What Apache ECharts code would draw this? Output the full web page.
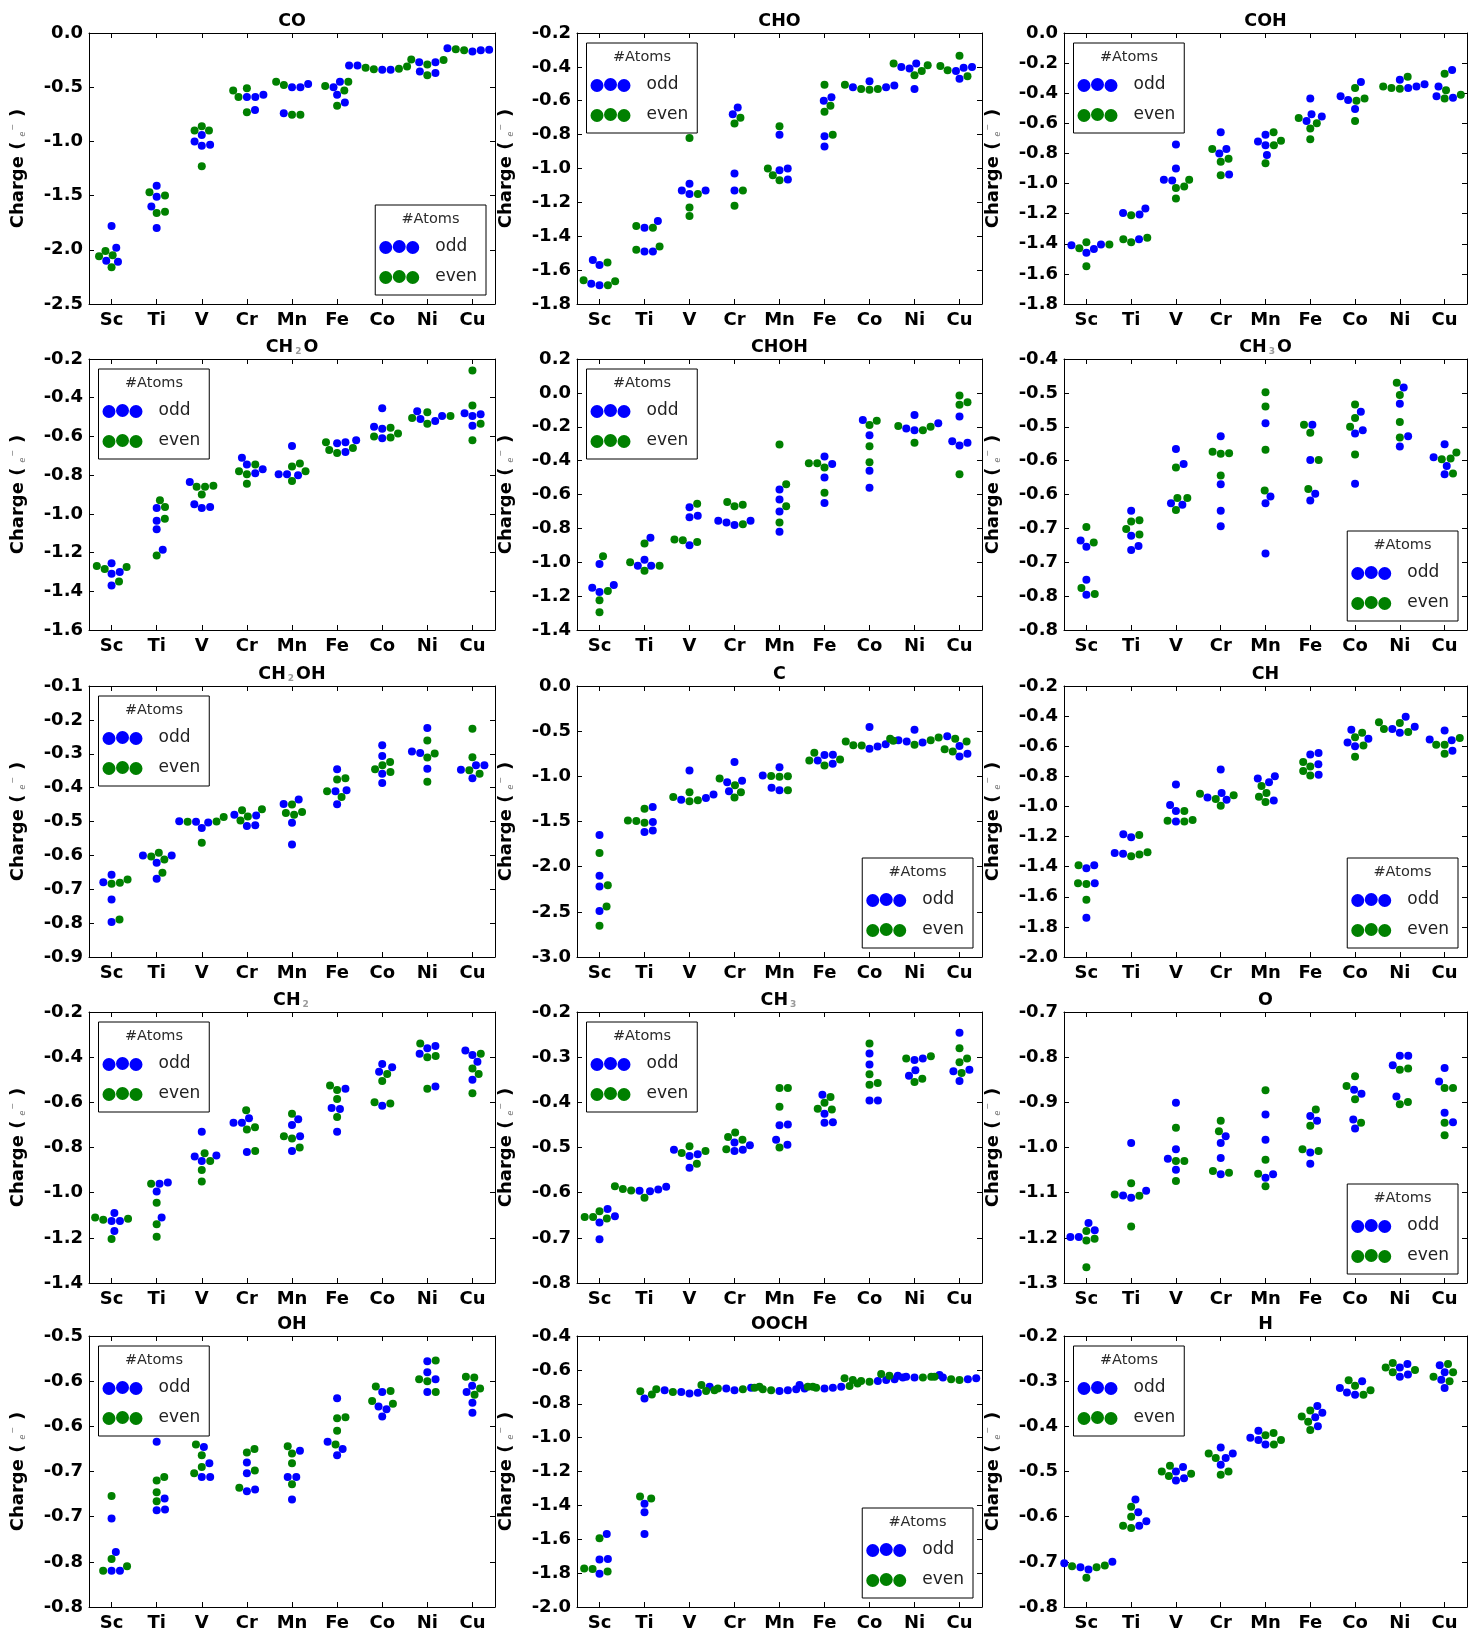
<!DOCTYPE html>
<html>
<head>
<meta charset="utf-8">
<script src="https://cdn.jsdelivr.net/npm/echarts@6/dist/echarts.min.js"></script>
<style>
  html, body { margin: 0; padding: 0; background: #fff; }
  #chart { width: 1468px; height: 1633px; }
</style>
</head>
<body>
<div id="chart"></div>
<script>
// Metals on the x axis
const metals = ['Sc', 'Ti', 'V', 'Cr', 'Mn', 'Fe', 'Co', 'Ni', 'Cu'];

// Adsorbate charge (e-) per metal: four clusters with an odd and four with an even atom count
const CO_odd = [[-1.78,-1.98,-2.10,-2.11],[-1.41,-1.51,-1.60,-1.80],[-1.03,-0.94,-1.04,-1.00],[-0.57,-0.71,-0.59,-0.59],[-0.50,-0.50,-0.47,-0.74],[-0.45,-0.50,-0.57,-0.64],[-0.30,-0.34,-0.34,-0.30],[-0.27,-0.27,-0.37,-0.355],[-0.14,-0.16,-0.17,-0.155]];
const CO_even = [[-2.05,-2.01,-2.06,-2.16],[-1.50,-1.47,-1.65,-1.66],[-0.90,-0.90,-0.86,-1.23],[-0.59,-0.53,-0.51,-0.73],[-0.45,-0.48,-0.755,-0.755],[-0.45,-0.53,-0.49,-0.67],[-0.32,-0.335,-0.31,-0.33],[-0.245,-0.25,-0.29,-0.39],[-0.15,-0.145,-0.13,-0.16]];

const CHO_odd = [[-1.69,-1.57,-1.54,-1.68],[-1.31,-1.35,-1.49,-1.49],[-1.09,-1.15,-1.13,-1.13],[-0.64,-0.68,-1.03,-1.13],[-1.00,-1.01,-1.065,-0.80],[-0.58,-0.60,-0.81,-0.87],[-0.52,-0.485,-0.52,-0.51],[-0.53,-0.41,-0.40,-0.38],[-0.40,-0.405,-0.425,-0.47]];
const CHO_even = [[-1.665,-1.555,-1.69,-1.66],[-1.35,-1.34,-1.46,-1.48],[-1.15,-0.82,-1.23,-1.28],[-0.70,-0.735,-1.13,-1.22],[-0.75,-1.00,-1.04,-1.07],[-0.505,-0.63,-0.665,-0.80],[-0.505,-0.53,-0.535,-0.53],[-0.39,-0.425,-0.38,-0.45],[-0.335,-0.455,-0.42,-0.395]];

const COH_odd = [[-1.41,-1.435,-1.405,-1.46],[-1.165,-1.205,-1.195,-1.37],[-0.74,-0.90,-0.975,-0.98],[-0.66,-0.77,-0.80,-0.94],[-0.675,-0.745,-0.72,-0.81],[-0.435,-0.555,-0.54,-0.585],[-0.325,-0.42,-0.445,-0.505],[-0.34,-0.355,-0.365,-0.31],[-0.245,-0.355,-0.42,-0.43]];
const COH_even = [[-1.43,-1.405,-1.39,-1.55],[-1.21,-1.37,-1.39,-1.36],[-1.02,-1.03,-0.975,-1.10],[-0.77,-0.835,-0.855,-0.945],[-0.66,-0.715,-0.745,-0.865],[-0.60,-0.565,-0.635,-0.705],[-0.365,-0.45,-0.435,-0.585],[-0.29,-0.37,-0.365,-0.355],[-0.27,-0.38,-0.41,-0.435]];

const CH2O_odd = [[-1.255,-1.30,-1.31,-1.37],[-0.97,-1.035,-1.08,-1.185],[-0.835,-0.965,-0.97,-0.95],[-0.71,-0.745,-0.77,-0.79],[-0.65,-0.80,-0.795,-0.795],[-0.68,-0.635,-0.63,-0.62],[-0.455,-0.55,-0.56,-0.61],[-0.47,-0.52,-0.495,-0.51],[-0.485,-0.495,-0.48,-0.545]];
const CH2O_even = [[-1.275,-1.285,-1.27,-1.35],[-0.93,-0.965,-1.025,-1.215],[-0.855,-0.86,-0.86,-0.90],[-0.745,-0.795,-0.78,-0.845],[-0.78,-0.755,-0.74,-0.83],[-0.66,-0.63,-0.685,-0.67],[-0.585,-0.605,-0.555,-0.60],[-0.495,-0.535,-0.505,-0.475],[-0.26,-0.44,-0.535,-0.62]];

const CHOH_odd = [[-1.01,-1.135,-1.175,-1.15],[-0.855,-0.985,-1.02,-1.02],[-0.675,-0.725,-0.735,-0.90],[-0.755,-0.78,-0.765,-0.755],[-0.57,-0.63,-0.70,-0.82],[-0.375,-0.42,-0.50,-0.65],[-0.16,-0.25,-0.46,-0.56],[-0.18,-0.13,-0.22,-0.21],[-0.14,-0.295,-0.31,-0.285]];
const CHOH_even = [[-0.965,-1.17,-1.225,-1.295],[-1.00,-1.02,-0.89,-1.05],[-0.655,-0.88,-0.87,-0.865],[-0.66,-0.67,-0.645,-0.775],[-0.305,-0.54,-0.67,-0.765],[-0.44,-0.415,-0.415,-0.59],[-0.165,-0.19,-0.315,-0.41],[-0.20,-0.22,-0.195,-0.295],[-0.015,-0.055,-0.07,-0.48]];

const CH3O_odd = [[-0.677,-0.668,-0.726,-0.748],[-0.624,-0.661,-0.676,-0.682],[-0.533,-0.555,-0.615,-0.613],[-0.514,-0.585,-0.624,-0.647],[-0.495,-0.603,-0.613,-0.687],[-0.497,-0.549,-0.599,-0.609],[-0.478,-0.505,-0.51,-0.584],[-0.442,-0.466,-0.514,-0.529],[-0.545,-0.526,-0.558,-0.57]];
const CH3O_even = [[-0.648,-0.671,-0.738,-0.747],[-0.638,-0.64,-0.651,-0.659],[-0.56,-0.605,-0.605,-0.623],[-0.539,-0.54,-0.537,-0.572],[-0.449,-0.47,-0.534,-0.594],[-0.497,-0.509,-0.549,-0.592],[-0.467,-0.487,-0.50,-0.541],[-0.435,-0.453,-0.493,-0.516],[-0.548,-0.547,-0.538,-0.569]];

const CH2OH_odd = [[-0.657,-0.679,-0.73,-0.797],[-0.60,-0.60,-0.622,-0.669],[-0.503,-0.519,-0.501,-0.499],[-0.482,-0.48,-0.511,-0.513],[-0.448,-0.435,-0.504,-0.568],[-0.346,-0.411,-0.408,-0.449],[-0.275,-0.307,-0.359,-0.386],[-0.224,-0.298,-0.293,-0.344],[-0.334,-0.334,-0.347,-0.372]];
const CH2OH_even = [[-0.671,-0.681,-0.684,-0.789],[-0.592,-0.612,-0.603,-0.651],[-0.487,-0.50,-0.501,-0.563],[-0.464,-0.467,-0.485,-0.497],[-0.45,-0.475,-0.48,-0.472],[-0.372,-0.376,-0.411,-0.428],[-0.324,-0.334,-0.354,-0.346],[-0.261,-0.299,-0.311,-0.383],[-0.226,-0.31,-0.359,-0.349]];

const C_odd = [[-1.65,-2.10,-2.22,-2.49],[-1.34,-1.505,-1.60,-1.615],[-0.935,-1.20,-1.24,-1.26],[-0.84,-1.065,-1.05,-1.165],[-0.90,-1.155,-1.125,-0.99],[-0.76,-0.765,-0.86,-0.825],[-0.455,-0.645,-0.67,-0.695],[-0.485,-0.60,-0.625,-0.615],[-0.555,-0.665,-0.75,-0.78]];
const C_even = [[-1.85,-2.205,-2.44,-2.655],[-1.49,-1.36,-1.515,-1.495],[-1.175,-1.265,-1.275,-1.23],[-1.025,-1.175,-1.235,-1.10],[-1.00,-1.005,-0.995,-1.155],[-0.815,-0.88,-0.74,-0.825],[-0.605,-0.655,-0.66,-0.615],[-0.57,-0.65,-0.60,-0.585],[-0.585,-0.615,-0.725,-0.70]];

const CH_odd = [[-1.39,-1.41,-1.51,-1.74],[-1.205,-1.185,-1.315,-1.31],[-0.855,-1.03,-0.99,-1.10],[-0.755,-0.91,-0.955,-0.94],[-0.80,-0.84,-0.815,-0.96],[-0.645,-0.655,-0.72,-0.79],[-0.49,-0.55,-0.60,-0.575],[-0.405,-0.47,-0.51,-0.485],[-0.495,-0.555,-0.56,-0.63]];
const CH_even = [[-1.39,-1.51,-1.515,-1.62],[-1.19,-1.305,-1.32,-1.33],[-1.03,-1.09,-1.10,-1.095],[-0.925,-0.95,-0.995,-0.915],[-0.865,-0.91,-0.935,-0.97],[-0.705,-0.735,-0.765,-0.795],[-0.51,-0.54,-0.595,-0.67],[-0.445,-0.505,-0.485,-0.44],[-0.545,-0.59,-0.59,-0.65]];

const CH2_odd = [[-1.09,-1.125,-1.125,-1.17],[-0.955,-0.96,-0.995,-1.11],[-0.73,-0.835,-0.86,-0.84],[-0.67,-0.69,-0.69,-0.82],[-0.675,-0.70,-0.75,-0.815],[-0.54,-0.625,-0.63,-0.73],[-0.445,-0.43,-0.465,-0.615],[-0.35,-0.36,-0.385,-0.53],[-0.37,-0.39,-0.42,-0.50]];
const CH2_even = [[-1.115,-1.12,-1.11,-1.205],[-0.96,-1.045,-1.14,-1.195],[-0.825,-0.86,-0.90,-0.95],[-0.635,-0.71,-0.72,-0.815],[-0.65,-0.75,-0.76,-0.80],[-0.545,-0.525,-0.585,-0.665],[-0.475,-0.505,-0.60,-0.605],[-0.34,-0.395,-0.40,-0.54],[-0.385,-0.45,-0.475,-0.56]];

const CH3_odd = [[-0.652,-0.636,-0.666,-0.703],[-0.587,-0.593,-0.596,-0.597],[-0.515,-0.519,-0.545,-0.505],[-0.495,-0.489,-0.508,-0.505],[-0.449,-0.451,-0.483,-0.494],[-0.383,-0.425,-0.444,-0.445],[-0.292,-0.316,-0.396,-0.396],[-0.306,-0.303,-0.329,-0.341],[-0.246,-0.331,-0.328,-0.353]];
const CH3_even = [[-0.657,-0.641,-0.654,-0.654],[-0.611,-0.595,-0.586,-0.592],[-0.508,-0.497,-0.512,-0.536],[-0.477,-0.467,-0.483,-0.504],[-0.368,-0.368,-0.41,-0.50],[-0.388,-0.401,-0.416,-0.414],[-0.27,-0.338,-0.357,-0.361],[-0.298,-0.303,-0.348,-0.355],[-0.28,-0.303,-0.311,-0.335]];

const O_odd = [[-1.167,-1.183,-1.198,-1.198],[-0.99,-1.096,-1.111,-1.106],[-0.901,-1.004,-1.025,-1.049],[-0.975,-0.99,-1.023,-1.059],[-0.927,-0.983,-1.059,-1.067],[-0.941,-0.93,-1.011,-1.036],[-0.881,-0.872,-0.938,-0.958],[-0.797,-0.797,-0.818,-0.887],[-0.824,-0.854,-0.923,-0.944]];
const O_even = [[-1.185,-1.202,-1.206,-1.265],[-1.107,-1.079,-1.104,-1.175],[-0.956,-1.03,-1.03,-1.074],[-0.941,-0.964,-1.056,-1.052],[-0.873,-1.027,-1.058,-1.086],[-0.916,-0.952,-1.008,-1.004],[-0.842,-0.864,-0.893,-0.945],[-0.825,-0.828,-0.899,-0.904],[-0.868,-0.868,-0.945,-0.973]];

const OH_odd = [[-0.702,-0.739,-0.76,-0.76],[-0.617,-0.68,-0.692,-0.693],[-0.623,-0.641,-0.656,-0.656],[-0.64,-0.652,-0.67,-0.672],[-0.627,-0.656,-0.656,-0.681],[-0.569,-0.617,-0.625,-0.632],[-0.562,-0.578,-0.581,-0.589],[-0.528,-0.54,-0.548,-0.562],[-0.555,-0.562,-0.574,-0.585]];
const OH_even = [[-0.677,-0.747,-0.76,-0.755],[-0.656,-0.66,-0.673,-0.683],[-0.62,-0.632,-0.645,-0.652],[-0.625,-0.629,-0.649,-0.668],[-0.622,-0.641,-0.664,-0.63],[-0.59,-0.591,-0.605,-0.62],[-0.556,-0.561,-0.572,-0.575],[-0.527,-0.548,-0.55,-0.562],[-0.545,-0.546,-0.558,-0.565]];

const OOCH_odd = [[-1.569,-1.717,-1.72,-1.803],[-0.769,-1.39,-1.44,-1.569],[-0.72,-0.735,-0.74,-0.73],[-0.70,-0.71,-0.72,-0.705],[-0.71,-0.72,-0.725,-0.715],[-0.70,-0.705,-0.71,-0.69],[-0.645,-0.66,-0.665,-0.655],[-0.63,-0.64,-0.645,-0.635],[-0.625,-0.645,-0.655,-0.65]];
const OOCH_even = [[-1.594,-1.772,-1.775,-1.79],[-0.726,-0.745,-1.348,-1.36],[-0.715,-0.725,-0.73,-0.72],[-0.69,-0.70,-0.71,-0.715],[-0.705,-0.715,-0.72,-0.70],[-0.68,-0.695,-0.70,-0.705],[-0.65,-0.66,-0.67,-0.665],[-0.625,-0.635,-0.64,-0.645],[-0.63,-0.64,-0.655,-0.66]];

const H_odd = [[-0.70,-0.703,-0.712,-0.717],[-0.562,-0.59,-0.61,-0.62],[-0.49,-0.50,-0.515,-0.52],[-0.447,-0.46,-0.47,-0.485],[-0.41,-0.425,-0.43,-0.44],[-0.355,-0.37,-0.38,-0.40],[-0.30,-0.315,-0.325,-0.33],[-0.262,-0.27,-0.285,-0.29],[-0.265,-0.28,-0.297,-0.315]];
const H_even = [[-0.708,-0.712,-0.71,-0.735],[-0.578,-0.60,-0.62,-0.625],[-0.487,-0.50,-0.505,-0.51],[-0.46,-0.47,-0.50,-0.507],[-0.415,-0.42,-0.43,-0.44],[-0.365,-0.378,-0.39,-0.408],[-0.298,-0.31,-0.32,-0.33],[-0.26,-0.27,-0.275,-0.28],[-0.262,-0.28,-0.29,-0.30]];

// y tick labels, top to bottom
const ticks_CO    = ['0.0','-0.5','-1.0','-1.5','-2.0','-2.5'];
const ticks_CHO   = ['-0.2','-0.4','-0.6','-0.8','-1.0','-1.2','-1.4','-1.6','-1.8'];
const ticks_COH   = ['0.0','-0.2','-0.4','-0.6','-0.8','-1.0','-1.2','-1.4','-1.6','-1.8'];
const ticks_CH2O  = ['-0.2','-0.4','-0.6','-0.8','-1.0','-1.2','-1.4','-1.6'];
const ticks_CHOH  = ['0.2','0.0','-0.2','-0.4','-0.6','-0.8','-1.0','-1.2','-1.4'];
const ticks_CH3O  = ['-0.4','-0.5','-0.5','-0.6','-0.6','-0.7','-0.7','-0.8','-0.8'];
const ticks_CH2OH = ['-0.1','-0.2','-0.3','-0.4','-0.5','-0.6','-0.7','-0.8','-0.9'];
const ticks_C     = ['0.0','-0.5','-1.0','-1.5','-2.0','-2.5','-3.0'];
const ticks_CH    = ['-0.2','-0.4','-0.6','-0.8','-1.0','-1.2','-1.4','-1.6','-1.8','-2.0'];
const ticks_CH2   = ['-0.2','-0.4','-0.6','-0.8','-1.0','-1.2','-1.4'];
const ticks_CH3   = ['-0.2','-0.3','-0.4','-0.5','-0.6','-0.7','-0.8'];
const ticks_O     = ['-0.7','-0.8','-0.9','-1.0','-1.1','-1.2','-1.3'];
const ticks_OH    = ['-0.5','-0.6','-0.6','-0.7','-0.7','-0.8','-0.8'];
const ticks_OOCH  = ['-0.4','-0.6','-0.8','-1.0','-1.2','-1.4','-1.6','-1.8','-2.0'];
const ticks_H     = ['-0.2','-0.3','-0.4','-0.5','-0.6','-0.7','-0.8'];

const panels = [
  { name: 'CO',    odd: CO_odd,    even: CO_even,    min: -2.5, max: 0.0,  step: 0.5,  ticks: ticks_CO,    legend: 'br' },
  { name: 'CHO',   odd: CHO_odd,   even: CHO_even,   min: -1.8, max: -0.2, step: 0.2,  ticks: ticks_CHO,   legend: 'tl' },
  { name: 'COH',   odd: COH_odd,   even: COH_even,   min: -1.8, max: 0.0,  step: 0.2,  ticks: ticks_COH,   legend: 'tl' },
  { name: 'CH2O',  odd: CH2O_odd,  even: CH2O_even,  min: -1.6, max: -0.2, step: 0.2,  ticks: ticks_CH2O,  legend: 'tl' },
  { name: 'CHOH',  odd: CHOH_odd,  even: CHOH_even,  min: -1.4, max: 0.2,  step: 0.2,  ticks: ticks_CHOH,  legend: 'tl' },
  { name: 'CH3O',  odd: CH3O_odd,  even: CH3O_even,  min: -0.8, max: -0.4, step: 0.05, ticks: ticks_CH3O,  legend: 'br' },
  { name: 'CH2OH', odd: CH2OH_odd, even: CH2OH_even, min: -0.9, max: -0.1, step: 0.1,  ticks: ticks_CH2OH, legend: 'tl' },
  { name: 'C',     odd: C_odd,     even: C_even,     min: -3.0, max: 0.0,  step: 0.5,  ticks: ticks_C,     legend: 'br' },
  { name: 'CH',    odd: CH_odd,    even: CH_even,    min: -2.0, max: -0.2, step: 0.2,  ticks: ticks_CH,    legend: 'br' },
  { name: 'CH2',   odd: CH2_odd,   even: CH2_even,   min: -1.4, max: -0.2, step: 0.2,  ticks: ticks_CH2,   legend: 'tl' },
  { name: 'CH3',   odd: CH3_odd,   even: CH3_even,   min: -0.8, max: -0.2, step: 0.1,  ticks: ticks_CH3,   legend: 'tl' },
  { name: 'O',     odd: O_odd,     even: O_even,     min: -1.3, max: -0.7, step: 0.1,  ticks: ticks_O,     legend: 'br' },
  { name: 'OH',    odd: OH_odd,    even: OH_even,    min: -0.8, max: -0.5, step: 0.05, ticks: ticks_OH,    legend: 'tl' },
  { name: 'OOCH',  odd: OOCH_odd,  even: OOCH_even,  min: -2.0, max: -0.4, step: 0.2,  ticks: ticks_OOCH,  legend: 'br' },
  { name: 'H',     odd: H_odd,     even: H_even,     min: -0.8, max: -0.2, step: 0.1,  ticks: ticks_H,     legend: 'tl' }
];

// ---- layout ----
const W = 1468, H = 1633;
const colLeft = [89, 577, 1064];
const colWidth = [406, 405, 403];
const rowTop = [33, 359, 686, 1012, 1336];
const rowHeight = 271;
const FONT = 'DejaVu Sans';
const BLUE = '#0000ff', GREEN = '#008000';
const DOT = 8;          // marker diameter, px
const SWARM_GAP = 8.4;  // minimum centre distance in the swarm, px
const LEG_W = 111, LEG_H = 90;

// three dots used as the legend key
const KEY_ICON = 'path://M0,7.5a6.5,6.5 0 1,0 13,0a6.5,6.5 0 1,0 -13,0z' +
  'M13.5,6.5a6.5,6.5 0 1,0 13,0a6.5,6.5 0 1,0 -13,0z' +
  'M27,7.5a6.5,6.5 0 1,0 13,0a6.5,6.5 0 1,0 -13,0z';

// Beeswarm: horizontal pixel offsets so that no two dots overlap
function swarmOffsets(values, pxPerUnit, d) {
  const order = values.map((v, i) => i).sort((a, b) => values[a] - values[b]);
  const placed = [];
  const xs = new Array(values.length);
  order.forEach(i => {
    const y = values[i] * pxPerUnit;
    const near = placed.filter(p => Math.abs(p.y - y) < d);
    const cands = [0];
    near.forEach(p => {
      const dx = Math.sqrt(d * d - (p.y - y) * (p.y - y));
      cands.push(p.x + dx, p.x - dx);
    });
    cands.sort((a, b) => Math.abs(a) - Math.abs(b));
    const x = cands.find(c => near.every(p => (p.x - c) * (p.x - c) + (p.y - y) * (p.y - y) >= d * d - 1e-6));
    placed.push({ x: x, y: y });
    xs[i] = x;
  });
  return xs;
}

function titleRich(name) {
  return name.replace(/([A-Za-z]+)|(\d+)/g, (m, letters, digits) =>
    letters ? '{t|' + letters + '}' : '{s|' + digits + '}');
}

const axisLineStyle = { color: '#000', width: 1 };
const tickValues = metals.map((m, i) => i);

const option = {
  animation: false,
  backgroundColor: '#fff',
  grid: [], xAxis: [], yAxis: [], series: [], legend: [], title: []
};

panels.forEach((p, i) => {
  const c = i % 3, r = Math.floor(i / 3);
  const left = colLeft[c], top = rowTop[r], w = colWidth[c], h = rowHeight;
  const right = left + w, bottom = top + h;

  option.grid.push({ left: left, top: top, width: w, height: h, show: false });

  const xIdx = option.xAxis.length;
  option.xAxis.push({
    gridIndex: i, type: 'value', position: 'bottom', min: -0.5, max: 8.5,
    axisLine: { show: true, onZero: false, lineStyle: axisLineStyle },
    axisTick: { show: true, inside: true, length: 5, customValues: tickValues, lineStyle: axisLineStyle },
    axisLabel: {
      customValues: tickValues, formatter: v => metals[Math.round(v)], margin: 7,
      fontFamily: FONT, fontSize: 18, fontWeight: 'bold', color: '#000'
    },
    splitLine: { show: false }
  });
  option.xAxis.push({
    gridIndex: i, type: 'value', position: 'top', min: -0.5, max: 8.5,
    axisLine: { show: true, onZero: false, lineStyle: axisLineStyle },
    axisTick: { show: true, inside: true, length: 5, customValues: tickValues, lineStyle: axisLineStyle },
    axisLabel: { show: false },
    splitLine: { show: false }
  });

  const yIdx = option.yAxis.length;
  option.yAxis.push({
    gridIndex: i, type: 'value', position: 'left', min: p.min, max: p.max, interval: p.step,
    axisLine: { show: true, onZero: false, lineStyle: axisLineStyle },
    axisTick: { show: true, inside: true, length: 5, lineStyle: axisLineStyle },
    axisLabel: {
      formatter: v => p.ticks[Math.round((p.max - v) / p.step)],
      showMinLabel: true, showMaxLabel: true, margin: 6,
      fontFamily: FONT, fontSize: 18, fontWeight: 'bold', color: '#000'
    },
    splitLine: { show: false },
    name: '{b|Charge (}{e|e}{m|\u2212}{b|)}',
    nameLocation: 'middle', nameGap: 62, nameRotate: 90,
    nameTextStyle: {
      rich: {
        b: { fontFamily: FONT, fontSize: 18, fontWeight: 'bold', color: '#000' },
        e: { fontFamily: FONT, fontSize: 8, fontStyle: 'italic', color: '#777', padding: [0, 1, 0, 5], verticalAlign: 'bottom' },
        m: { fontFamily: FONT, fontSize: 8, color: '#777', padding: [0, 7, 6, 0], verticalAlign: 'top' }
      }
    }
  });
  option.yAxis.push({
    gridIndex: i, type: 'value', position: 'right', min: p.min, max: p.max, interval: p.step,
    axisLine: { show: true, onZero: false, lineStyle: axisLineStyle },
    axisTick: { show: true, inside: true, length: 5, lineStyle: axisLineStyle },
    axisLabel: { show: false },
    splitLine: { show: false }
  });

  // swarm positions for each metal, odd and even clusters together
  const pxPerCat = w / 9, pxPerUnit = h / (p.max - p.min);
  const oddPts = [], evenPts = [];
  metals.forEach((m, k) => {
    const vals = p.odd[k].concat(p.even[k]);
    const offs = swarmOffsets(vals, pxPerUnit, SWARM_GAP);
    vals.forEach((v, j) => {
      const pt = [k + offs[j] / pxPerCat, v];
      (j < p.odd[k].length ? oddPts : evenPts).push(pt);
    });
  });
  option.series.push({
    type: 'scatter', name: 'odd', xAxisIndex: xIdx, yAxisIndex: yIdx,
    data: oddPts, symbolSize: DOT, itemStyle: { color: BLUE, opacity: 1 }, silent: true
  });
  option.series.push({
    type: 'scatter', name: 'even', xAxisIndex: xIdx, yAxisIndex: yIdx,
    data: evenPts, symbolSize: DOT, itemStyle: { color: GREEN, opacity: 1 }, silent: true
  });

  // panel title
  option.title.push({
    text: titleRich(p.name), left: left + w / 2, top: top - 21, textAlign: 'center',
    padding: 0,
    textStyle: {
      rich: {
        t: { fontFamily: FONT, fontSize: 17.5, fontWeight: 'bold', color: '#000' },
        s: { fontFamily: FONT, fontSize: 9, color: '#999', padding: [0, 2, 0, 2], verticalAlign: 'bottom' }
      }
    }
  });

  // legend box with "#Atoms" heading
  let boxLeft, boxTop;
  if (p.legend === 'tl') { boxLeft = left + 9.5; boxTop = top + 10; }
  else { boxLeft = right - 9 - LEG_W; boxTop = bottom - 9 - LEG_H; }
  const legend = {
    show: true, selectedMode: false, orient: 'vertical',
    data: [{ name: 'odd', icon: KEY_ICON }, { name: 'even', icon: KEY_ICON }],
    itemWidth: 40, itemHeight: 14, itemGap: 10,
    itemStyle: { opacity: 1 },
    padding: [32, 9, 8, 4],
    borderColor: '#000', borderWidth: 1, backgroundColor: '#fff',
    textStyle: { fontFamily: FONT, fontSize: 17, color: '#222', lineHeight: 20, padding: [0, 0, 0, 11] }
  };
  if (p.legend === 'tl') { legend.left = boxLeft; legend.top = boxTop; }
  else { legend.right = W - (right - 9); legend.bottom = H - (bottom - 9); }
  option.legend.push(legend);
  option.title.push({
    text: '#Atoms', left: boxLeft + LEG_W / 2, top: boxTop + 7, textAlign: 'center', padding: 0,
    textStyle: { fontFamily: FONT, fontSize: 14.5, fontWeight: 'normal', color: '#2b2b2b' }
  });
});

const chart = echarts.init(document.getElementById('chart'), null, { renderer: 'canvas' });
chart.setOption(option);
</script>
</body>
</html>
